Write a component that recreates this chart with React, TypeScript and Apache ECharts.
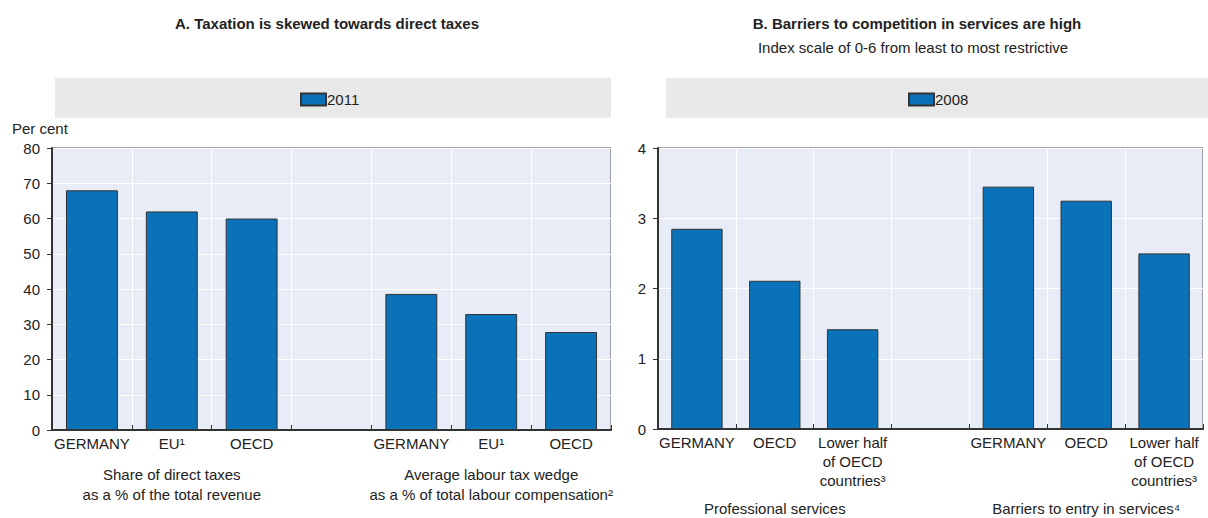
import React, { useEffect, useRef } from "react";
import * as echarts from "echarts";

const taxCategories = ["GERMANY", "EU¹", "OECD", "", "GERMANY", "EU¹", "OECD"];
const taxGroupLabels = ["", "Share of direct taxes\nas a % of the total revenue", "", "", "", "Average labour tax wedge\nas a % of total labour compensation²", ""];
const taxValues: (number | null)[] = [68, 62, 60, null, 38.6, 32.9, 27.8];
const taxSeriesName = "2011";

const compCategories = ["GERMANY", "OECD", "Lower half\nof OECD\ncountries³", "", "GERMANY", "OECD", "Lower half\nof OECD\ncountries³"];
const compGroupLabels = ["", "Professional services", "", "", "", "Barriers to entry in services⁴", ""];
const compValues: (number | null)[] = [2.85, 2.11, 1.42, null, 3.45, 3.25, 2.5];
const compSeriesName = "2008";

const titleA = "A. Taxation is skewed towards direct taxes";
const titleB = "B. Barriers to competition in services are high";
const subtitleB = "Index scale of 0-6 from least to most restrictive";
const yNameA = "Per cent";

const FONT = "'Liberation Sans', Arial, sans-serif";
const TXT = "#222";
const BAR = "#0a72b8";
const PLOT_BG = "#e8ecf6";

export default function App() {
  const ref = useRef<HTMLDivElement>(null);
  useEffect(() => {
    document.body.style.margin = "0";
    const chart = echarts.init(ref.current!, null, { renderer: "svg" });
    const catAxis = (grid: number, data: string[]) => ({
      type: "category",
      gridIndex: grid,
      data,
      position: "bottom",
      axisLine: { show: true, lineStyle: { color: "#333", width: 2 } },
      axisTick: { show: true, inside: true, length: 5, lineStyle: { color: "#333" } },
      splitLine: { show: true, lineStyle: { color: "#fff", width: 1 } },
      axisLabel: { interval: 0, margin: 4, color: TXT, fontFamily: FONT, fontSize: 15, lineHeight: 19 },
    });
    const groupAxis = (grid: number, data: string[], margin: number, lh: number) => ({
      type: "category",
      gridIndex: grid,
      data,
      position: "bottom",
      axisLine: { show: false },
      axisTick: { show: false },
      splitLine: { show: false },
      axisLabel: { interval: 0, margin, color: TXT, fontFamily: FONT, fontSize: 15, lineHeight: lh },
    });
    const valAxis = (grid: number, max: number, interval: number) => ({
      type: "value",
      gridIndex: grid,
      min: 0,
      max,
      interval,
      axisLine: { show: true, lineStyle: { color: "#333", width: 2 } },
      axisTick: { show: true, length: 5, lineStyle: { color: "#333" } },
      splitLine: { show: true, lineStyle: { color: "#fff", width: 1 } },
      axisLabel: { margin: 12, color: TXT, fontFamily: FONT, fontSize: 15 },
    });
    const barStyle = { color: BAR, borderColor: "#333", borderWidth: 1 };
    chart.setOption({
      animation: false,
      title: [
        { text: titleA, left: 322, top: 11, textAlign: "center", textStyle: { fontFamily: FONT, fontSize: 15, fontWeight: "bold", color: TXT } },
        { text: titleB, left: 912, top: 11, textAlign: "center", textStyle: { fontFamily: FONT, fontSize: 15, fontWeight: "bold", color: TXT } },
        { text: subtitleB, left: 908, top: 35, textAlign: "center", textStyle: { fontFamily: FONT, fontSize: 15, fontWeight: "normal", color: TXT } },
      ],
      graphic: [
        { type: "rect", shape: { x: 55, y: 78, width: 556, height: 40 }, style: { fill: "#e9e9e9" }, z: -1 },
        { type: "rect", shape: { x: 666, y: 78, width: 542, height: 40 }, style: { fill: "#e9e9e9" }, z: -1 },
        { type: "text", x: 12, y: 121, style: { text: yNameA, fontFamily: FONT, fontSize: 15, fill: TXT } },
      ],
      legend: [
        { data: [taxSeriesName], left: 300, top: 92, padding: 0, icon: "rect", itemWidth: 25, itemHeight: 12, textStyle: { fontFamily: FONT, fontSize: 15, color: TXT, padding: [0, 0, 0, -4] } },
        { data: [compSeriesName], left: 908, top: 92, padding: 0, icon: "rect", itemWidth: 25, itemHeight: 12, textStyle: { fontFamily: FONT, fontSize: 15, color: TXT, padding: [0, 0, 0, -4] } },
      ],
      grid: [
        { left: 52, right: 597, top: 148, bottom: 88, show: true, backgroundColor: PLOT_BG, borderColor: "#555", borderWidth: 1 },
        { left: 658, right: 5, top: 148, bottom: 88, show: true, backgroundColor: PLOT_BG, borderColor: "#555", borderWidth: 1 },
      ],
      xAxis: [
        catAxis(0, taxCategories),
        groupAxis(0, taxGroupLabels, 34, 20),
        catAxis(1, compCategories),
        groupAxis(1, compGroupLabels, 70, 19),
      ],
      yAxis: [valAxis(0, 80, 10), valAxis(1, 4, 1)],
      series: [
        { name: taxSeriesName, type: "bar", xAxisIndex: 0, yAxisIndex: 0, data: taxValues, barWidth: "65%", itemStyle: barStyle },
        { name: compSeriesName, type: "bar", xAxisIndex: 2, yAxisIndex: 1, data: compValues, barWidth: "66%", itemStyle: barStyle },
      ],
    });
    return () => chart.dispose();
  }, []);
  return <div ref={ref} style={{ width: 1208, height: 518 }} />;
}
